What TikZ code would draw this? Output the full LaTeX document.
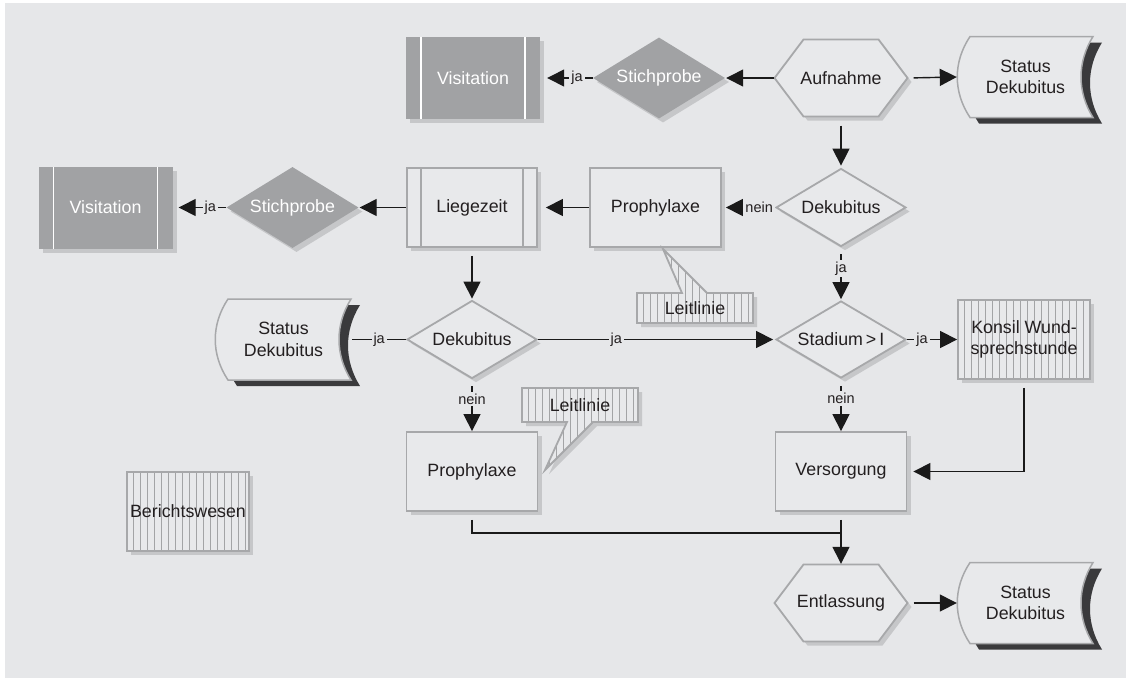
\documentclass[tikz,border=0pt]{standalone}
\usepackage{fontspec}
\setmainfont{Liberation Sans}
\usetikzlibrary{arrows.meta,shapes.geometric,shadows}
\definecolor{bg}{HTML}{E6E7E9}
\definecolor{boxc}{HTML}{E8E9EB}
\definecolor{outl}{HTML}{A7A8AA}
\definecolor{shadowc}{HTML}{C6C7C9}
\definecolor{visc}{HTML}{A1A2A4}
\definecolor{txt}{HTML}{231F20}
\definecolor{stripec}{HTML}{A3A4A6}
\definecolor{darkc}{HTML}{3A3A3C}
\definecolor{linec}{HTML}{1A1A1A}
\newcommand\mainsz{\fontsize{17.8}{21.5}\selectfont}
\newcommand\labsz{\fontsize{14.5}{16}\selectfont}
\tikzset{
  shad/.style={drop shadow={shadow xshift=4pt,shadow yshift=-4pt,fill=shadowc,opacity=1}},
  base/.style={font=\mainsz,text=txt,align=center,inner sep=0pt},
  box/.style={base,rectangle,draw=outl,line width=1.8pt,fill=boxc,minimum width=131pt,minimum height=79pt,shad},
  greylines/.style={path picture={\draw[outl,line width=1.3pt]
      ([xshift=14pt]path picture bounding box.north west) -- ([xshift=14pt]path picture bounding box.south west)
      ([xshift=-14pt]path picture bounding box.north east) -- ([xshift=-14pt]path picture bounding box.south east);}},
  whitelines/.style={path picture={\draw[white,line width=1.5pt]
      ([xshift=15pt]path picture bounding box.north west) -- ([xshift=15pt]path picture bounding box.south west)
      ([xshift=-15pt]path picture bounding box.north east) -- ([xshift=-15pt]path picture bounding box.south east);}},
  visbox/.style={base,rectangle,fill=visc,text=white,minimum width=134pt,minimum height=82pt,shad,whitelines},
  stich/.style={base,diamond,shape aspect=1.63,fill=visc,text=white,minimum width=132pt,minimum height=81pt,shad},
  deci/.style={base,diamond,shape aspect=1.63,draw=outl,line width=1.8pt,fill=boxc,minimum width=130pt,minimum height=78pt,shad},
  stripes/.style={path picture={\foreach \k in {0,...,24}{%
      \draw[stripec,line width=1pt] ([xshift={6pt+\k*7pt}]path picture bounding box.north west) -- ([xshift={6pt+\k*7pt}]path picture bounding box.south west);}}},
  stripebox/.style={base,rectangle,draw=outl,line width=1.8pt,fill=boxc,minimum width=132pt,minimum height=79pt,shad,stripes},
  hexsty/.style={draw=outl,line width=1.8pt,fill=boxc,shad},
  textonly/.style={base,rectangle},
  callout/.style={draw=outl,line width=1.8pt,fill=boxc,shad,stripes},
  conn/.style={draw=linec,line width=1.4pt,-{Triangle[length=17pt,width=17pt]}},
  plainline/.style={draw=linec,line width=1.4pt},
  lab/.style={fill=bg,font=\labsz,text=txt,inner sep=2pt},
}
\newcommand\hexshape[2]{\draw[hexsty,shift={(#1,#2)}] (-66.5,0) -- (-37.5,-38.5) -- (37.5,-38.5) -- (66.5,0) -- (37.5,38.5) -- (-37.5,38.5) -- cycle;}
\newcommand\statshape[2]{%
  \begin{scope}[shift={(#1,#2)}]
    \fill[darkc,shift={(9,6)}] (-61.5,-40.5) -- (61.5,-40.5) .. controls (45.5,-15) and (45.5,15) .. (61.5,40.5) -- (-61.5,40.5) .. controls (-78.5,15) and (-78.5,-15) .. cycle;
    \draw[outl,fill=boxc,line width=1.5pt] (-61.5,-40.5) -- (61.5,-40.5) .. controls (45.5,-15) and (45.5,15) .. (61.5,40.5) -- (-61.5,40.5) .. controls (-78.5,15) and (-78.5,-15) .. cycle;
  \end{scope}}
\begin{document}
\begin{tikzpicture}[x=1pt,y=-1pt]
\useasboundingbox (0,0) rectangle (1131,681);
\fill[bg] (5,3) rectangle (1126,678);

% ---- top row
\node[visbox] (visT) at (473,78) {Visitation};
\node[stich] (stT) at (659,78) {Stichprobe};
\hexshape{841}{78}
\node[textonly,minimum width=133pt,minimum height=77pt] (auf) at (841,78) {Aufnahme};
\statshape{1031.5}{77}
\node[textonly,minimum width=137pt,minimum height=81pt] (stsT) at (1025.5,77) {Status\\Dekubitus};

% ---- second row
\node[visbox] (visL) at (105.5,207.5) {Visitation};
\node[stich] (stL) at (292.5,207.5) {Stichprobe};
\node[box,greylines,minimum width=130pt] (lieg) at (472,207.5) {Liegezeit};
\node[box] (proT) at (655.5,207.5) {Prophylaxe};
\node[deci] (dekT) at (841,207.5) {Dekubitus};

\path[callout] (637,293) -- (682,293) -- (663,249) -- (707,293) -- (753,293) -- (753,323) -- (637,323) -- cycle;
\node[textonly] (leitT) at (695,308) {Leitlinie};

% ---- third row
\statshape{289.5}{339.5}
\node[textonly,minimum width=137pt,minimum height=81pt] (stsL) at (283.5,339.5) {Status\\Dekubitus};
\node[deci] (dekM) at (472,339.5) {Dekubitus};
\node[deci,minimum height=77pt] (stad) at (841,339.5) {Stadium\,>\,I};
\node[stripebox] (kons) at (1024,339.5) {Konsil Wund-\\sprechstunde};

\path[callout] (522,388) -- (638,388) -- (638,422) -- (593,422) -- (545,470) -- (567,422) -- (522,422) -- cycle;
\node[textonly] (leitB) at (580,405) {Leitlinie};

% ---- fourth row
\node[stripebox,minimum width=122pt] (ber) at (188,511.5) {Berichtswesen};
\node[box] (proB) at (472,471.5) {Prophylaxe};
\node[box] (vers) at (841,471.5) {Versorgung};

% ---- bottom row
\hexshape{841}{603}
\node[textonly,minimum width=133pt,minimum height=78pt] (entl) at (841,603) {Entlassung};
\statshape{1031.5}{603}
\node[textonly,minimum width=137pt,minimum height=81pt] (stsB) at (1025.5,603) {Status\\Dekubitus};

% ---- connectors
\draw[conn,shorten >=1pt] (auf.west) -- (stT.east);
\draw[conn,shorten >=7pt] (stT.west) -- node[lab,pos=0.3]{ja} (visT.east);
\draw[conn,shorten <=6pt] (auf.east) -- (stsT.west);
\draw[conn,shorten <=9pt,shorten >=2pt] (auf.south) -- (dekT.north);
\draw[conn,shorten >=4pt] (dekT.west) -- node[lab,pos=0.3]{nein} (proT.east);
\draw[conn,shorten >=8pt] (proT.west) -- (lieg.east);
\draw[conn,shorten >=1pt] (lieg.west) -- (stL.east);
\draw[conn,shorten >=6pt] (stL.west) -- node[lab,pos=0.3]{ja} (visL.east);
\draw[conn,shorten <=8pt,shorten >=1pt] (lieg.south) -- (dekM.north);
\draw[conn,shorten <=7pt,shorten >=1pt] (dekT.south) -- node[lab,pos=0.4]{ja} (stad.north);
\draw[plainline] (dekM.west) -- node[lab,pos=0.5]{ja} (stsL.east);
\draw[conn,shorten >=2pt] (dekM.east) -- node[lab,pos=0.33]{ja} (stad.west);
\draw[conn] (stad.east) -- node[lab,pos=0.3]{ja} (kons.west);
\draw[conn,shorten <=7pt] (stad.south) -- node[lab,pos=0.38]{nein} (vers.north);
\draw[conn,shorten <=7pt] (dekM.south) -- node[lab,pos=0.38]{nein} (proB.north);
\draw[conn,shorten <=8pt,shorten >=6pt] (kons.south) |- (vers.east);
\coordinate (mrg) at (841,533);
\draw[plainline,shorten <=8pt] (proB.south) |- (mrg);
\draw[conn,shorten <=8pt] (vers.south) -- (entl.north);
\draw[conn,shorten <=6pt] (entl.east) -- (stsB.west);
\end{tikzpicture}
\end{document}
